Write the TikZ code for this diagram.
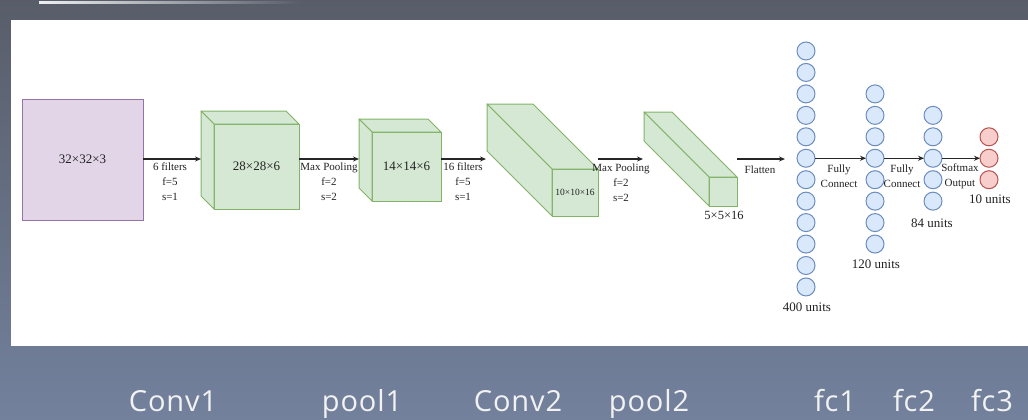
\documentclass[tikz,border=0pt]{standalone}
\usepackage{fontspec}
\setmainfont{Liberation Serif}
\newfontfamily\labfont[LetterSpace=3]{Open Sans}
\usetikzlibrary{arrows.meta}
\definecolor{bgtop}{RGB}{88,93,105}
\definecolor{bgbot}{RGB}{115,129,157}
\definecolor{pfill}{HTML}{E1D5E7}
\definecolor{pdraw}{HTML}{9673A6}
\definecolor{gfill}{HTML}{D5E8D4}
\definecolor{gdraw}{HTML}{82B366}
\definecolor{bfill}{HTML}{DAE8FC}
\definecolor{bdraw}{HTML}{6C8EBF}
\definecolor{rfill}{HTML}{F8CECC}
\definecolor{rdraw}{HTML}{B85450}
\definecolor{txt}{HTML}{222222}
\definecolor{labtxt}{HTML}{F2F2F2}
\tikzset{
  gface/.style={draw=gdraw, fill=gfill, line width=1pt, inner sep=0pt, outer sep=0pt, text=txt},
  gside/.style={draw=gdraw, fill=gfill, line width=1pt, line join=round},
  arr/.style={draw=black!85, line width=1.1pt, -{Stealth[length=6pt,width=5pt]}},
  small/.style={font=\fontsize{11}{15}\selectfont, text=txt, align=center, inner sep=0pt},
  unitlab/.style={font=\fontsize{13}{15}\selectfont, text=txt, inner sep=0pt},
  bnode/.style={circle, draw=bdraw, fill=bfill, line width=1pt, minimum size=18pt, inner sep=0pt, outer sep=0pt},
  rnode/.style={circle, draw=rdraw, fill=rfill, line width=1pt, minimum size=18pt, inner sep=0pt, outer sep=0pt},
  layerlab/.style={font=\labfont\fontsize{29}{32}\selectfont, text=labtxt, anchor=base, inner sep=0pt}
}
\newcommand\mkbox[8]{%
  \node[gface, minimum width=#4, minimum height=#5, font=\fontsize{#8}{#8}\selectfont] (#1) at (#2,#3) {#7};
  \filldraw[gside] (#1.north west) -- ++(-#6,-#6) -- ++(#4,0) -- (#1.north east) -- cycle;
  \filldraw[gside] (#1.north west) -- ++(-#6,-#6) -- ++(0,#5) -- (#1.south west) -- cycle;
}
\begin{document}
\begin{tikzpicture}[x=1pt,y=-1pt]
\useasboundingbox (0,0) rectangle (1028,420);
% background
\shade[top color=bgtop, bottom color=bgbot] (0,0) rectangle (1028,420);
\shade[left color=white!90!bgtop, right color=bgtop] (39,2) rectangle (300,4);
\fill[white] (11,20) rectangle (1028,346);

% input
\node[draw=pdraw, fill=pfill, line width=1pt, minimum width=121, minimum height=121, inner sep=0pt, outer sep=0pt, text=txt, font=\fontsize{13}{15}\selectfont] (in) at (82.5,159.5) {32×32×3};

% boxes
\mkbox{c1}{256.5}{166.5}{85}{85}{13}{28×28×6}{13}
\mkbox{c2}{406.5}{166.5}{69}{69}{13}{14×14×6}{13}
\mkbox{c3}{575}{192.5}{46}{47}{65}{10×10×16}{9.5}
\mkbox{c4}{723}{191.5}{28}{29}{65}{}{10}
\node[unitlab, font=\fontsize{12.5}{15}\selectfont] (c4lab) at (724,215) {5×5×16};

% arrow endpoints
\coordinate (c1in) at (201,159);
\coordinate (c1out) at (299,159);
\coordinate (c2in) at (359,159);
\coordinate (c2out) at (441,159);
\coordinate (c3in) at (486,159);
\coordinate (c3out) at (598,159);
\coordinate (c4in) at (643,159);
\coordinate (c4out) at (737,159);
\coordinate (flatend) at (785,159);

\draw[arr] (in.east |- c1in) -- (c1in);
\draw[arr] (c1out) -- (c2in);
\draw[arr] (c2out) -- (c3in);
\draw[arr] (c3out) -- (c4in);
\draw[arr] (c4out) -- (flatend);

\node[small] (l1) at (170,182) {6 filters\\f=5\\s=1};
\node[small] (l2) at (329,182) {Max Pooling\\f=2\\s=2};
\node[small] (l3) at (463,182) {16 filters\\f=5\\s=1};
\node[small] (l4) at (621,183) {Max Pooling\\f=2\\s=2};
\node[small] (l5) at (760,170) {Flatten};

% neurons
\foreach \i in {0,...,11} \node[bnode] (n1-\i) at (806,{51+21.45*\i}) {};
\foreach \i in {2,...,9} \node[bnode] (n2-\i) at (875,{51+21.45*\i}) {};
\foreach \i in {3,...,7} \node[bnode] (n3-\i) at (933,{51+21.45*\i}) {};
\foreach \i in {4,...,6} \node[rnode] (n4-\i) at (989,{51+21.45*\i}) {};

\draw[arr] (n1-5.east) -- (n2-5.west);
\draw[arr] (n2-5.east) -- (n3-5.west);
\draw[arr] (n3-5.east) -- (n4-5.west);

\node[small] (f1) at (839,176) {Fully\\Connect};
\node[small] (f2) at (902,176) {Fully\\Connect};
\node[small] (f3) at (960,176) {Softmax\\Output};

\node[unitlab] (u1) at (807,307) {400 units};
\node[unitlab] (u2) at (876,264) {120 units};
\node[unitlab] (u3) at (932,223) {84 units};
\node[unitlab] (u4) at (990,199) {10 units};

% layer labels
\node[layerlab] (L1) at (173,411) {Conv1};
\node[layerlab] (L2) at (362,411) {pool1};
\node[layerlab] (L3) at (518,411) {Conv2};
\node[layerlab] (L4) at (649,411) {pool2};
\node[layerlab] (L5) at (835,411) {fc1};
\node[layerlab] (L6) at (914,411) {fc2};
\node[layerlab] (L7) at (992,411) {fc3};
\end{tikzpicture}
\end{document}
